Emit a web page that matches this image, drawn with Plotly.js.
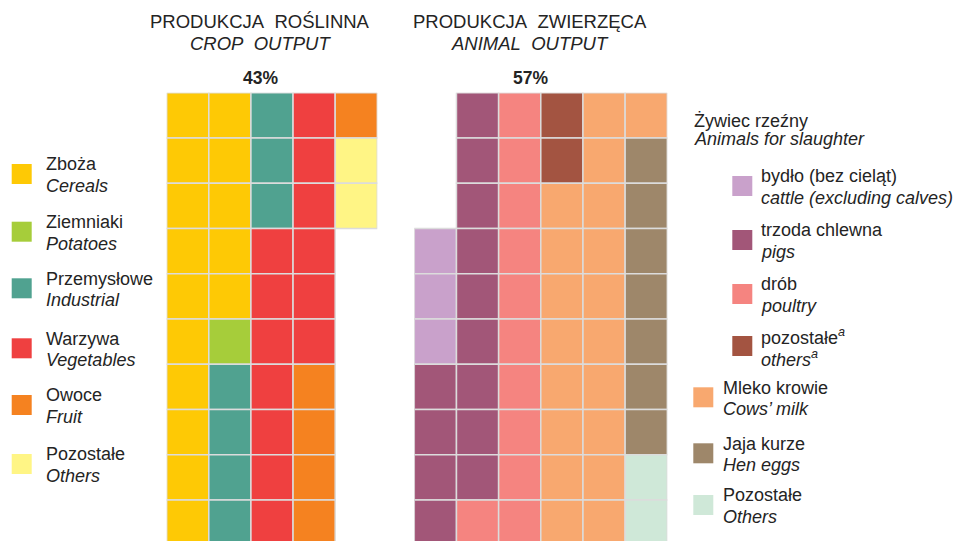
<!DOCTYPE html>
<html>
<head>
<meta charset="utf-8">
<script src="https://cdn.plot.ly/plotly-3.0.1.min.js"></script>
<style>html,body{margin:0;padding:0;background:#fff;}#chart{width:963px;height:541px;}</style>
</head>
<body>
<div id="chart"></div>
<script>
// ---- DATA ----
const cropLabelsPl = ['Zboża', 'Ziemniaki', 'Przemysłowe', 'Warzywa', 'Owoce', 'Pozostałe'];
const cropLabelsEn = ['Cereals', 'Potatoes', 'Industrial', 'Vegetables', 'Fruit', 'Others'];
const cropCells = [15, 1, 7, 13, 5, 2];          // each cell = 1% of global output
const animalLabelsPl = ['bydło (bez cieląt)', 'trzoda chlewna', 'drób', 'pozostałe<sup><i>a</i></sup>', 'Mleko krowie', 'Jaja kurze', 'Pozostałe'];
const animalLabelsEn = ['cattle (excluding calves)', 'pigs', 'poultry', 'others<sup>a</sup>', 'Cows’ milk', 'Hen eggs', 'Others'];
const animalCells = [3, 13, 11, 2, 19, 7, 2];
const animalSubgroup = [true, true, true, true, false, false, false]; // part of "Żywiec rzeźny"
const sectionTitlesPl = ['PRODUKCJA\u00A0\u00A0ROŚLINNA', 'PRODUKCJA\u00A0\u00A0ZWIERZĘCA'];
const sectionTitlesEn = ['CROP\u00A0\u00A0OUTPUT', 'ANIMAL\u00A0\u00A0OUTPUT'];
const sectionShares = [43, 57];
const slaughterHeaderPl = 'Żywiec rzeźny';
const slaughterHeaderEn = 'Animals for slaughter';

// ---- STYLE ----
const cropColors = ['#FEC905', '#A6CD3A', '#50A290', '#EF4040', '#F58220', '#FFF585'];
const animalColors = ['#C9A1CB', '#A25678', '#F58480', '#A35441', '#F8A86F', '#9E876A', '#CFE8D8'];
const gridLine = '#DCDCDC';
const txt = '#242424';
const FONT = 'Liberation Sans, Arial, sans-serif';
const LEG = 18;
const W = 963, H = 541;
const px = x => x / W, py = y => 1 - y / H;
const ROWS = 10, CROP_COLS = 5, ANIMAL_COLS = 6;

function cellTraces(counts, colors, cols, leadingBlanks, xaxis) {
  const traces = [];
  let k = leadingBlanks;
  counts.forEach((n, i) => {
    const xs = [], bases = [], ys = [];
    for (let j = 0; j < n; j++, k++) {
      xs.push(Math.floor(k / ROWS) + 0.5);
      bases.push(k % ROWS);
      ys.push(1);
    }
    traces.push({
      type: 'bar', x: xs, y: ys, base: bases, width: 1,
      xaxis: xaxis, yaxis: 'y',
      marker: {color: colors[i], line: {color: gridLine, width: 1.5}},
      hoverinfo: 'skip', showlegend: false
    });
  });
  return traces;
}

const animalTotal = animalCells.reduce((a, b) => a + b, 0);
const data = [
  ...cellTraces(cropCells, cropColors, CROP_COLS, 0, 'x'),
  ...cellTraces(animalCells, animalColors, ANIMAL_COLS, ANIMAL_COLS * ROWS - animalTotal, 'x2')
];

const annotations = [];
const shapes = [];
function ann(x, y, text, opts) {
  annotations.push(Object.assign({
    xref: 'paper', yref: 'paper', x: px(x), y: py(y), text: text, showarrow: false,
    xanchor: 'left', yanchor: 'middle', borderpad: 0, borderwidth: 0,
    font: {family: FONT, size: LEG, color: txt}
  }, opts || {}));
}
function square(x, y, color) {
  shapes.push({type: 'rect', xref: 'paper', yref: 'paper', x0: px(x), x1: px(x + 20),
    y0: py(y + 20), y1: py(y), fillcolor: color, line: {width: 0}});
}

// section titles
const titleX = [260, 530];
[0, 1].forEach(i => {
  ann(titleX[i], 21.5, sectionTitlesPl[i], {xanchor: 'center', font: {family: FONT, size: 18.5, color: txt}});
  ann(titleX[i], 43.5, '<i>' + sectionTitlesEn[i] + '</i>', {xanchor: 'center', font: {family: FONT, size: 18.5, color: txt}});
  ann(titleX[i], 77.5, '<b>' + sectionShares[i] + '%</b>', {xanchor: 'center', font: {family: FONT, size: 17.5, color: txt}});
});

// crop legend
const cropTops = [164, 221.7, 278.3, 338.3, 395, 454];
cropLabelsPl.forEach((l, i) => {
  square(11.7, cropTops[i], cropColors[i]);
  ann(46, cropTops[i] + 0.2, l);
  ann(46, cropTops[i] + 22, '<i>' + cropLabelsEn[i] + '</i>');
});

// animal legend
ann(693.5, 120.5, slaughterHeaderPl);
ann(693.5, 139, '<i>' + slaughterHeaderEn + '</i>');
const animalTops = [176, 230, 284, 336, 387.3, 443.3, 495];
animalLabelsPl.forEach((l, i) => {
  const sx = animalSubgroup[i] ? 732.3 : 693.3;
  const tx = animalSubgroup[i] ? 761 : 722.5;
  square(sx, animalTops[i], animalColors[i]);
  ann(tx, animalTops[i] + 0.2, l);
  ann(tx, animalTops[i] + 22, '<i>' + animalLabelsEn[i] + '</i>');
});

const layout = {
  width: W, height: H,
  margin: {l: 0, r: 0, t: 0, b: 0},
  paper_bgcolor: '#fff', plot_bgcolor: 'rgba(0,0,0,0)',
  barmode: 'overlay', bargap: 0,
  showlegend: false,
  xaxis: {domain: [166.7 / W, 377.3 / W], range: [0, CROP_COLS], visible: false, fixedrange: true},
  xaxis2: {domain: [414.3 / W, 667.3 / W], range: [0, ANIMAL_COLS], visible: false, fixedrange: true, anchor: 'y'},
  yaxis: {domain: [0, 1 - 92.7 / H], range: [(H - 92.7) / 45.26, 0], visible: false, fixedrange: true},
  annotations: annotations,
  shapes: shapes
};

Plotly.newPlot('chart', data, layout, {displayModeBar: false, staticPlot: true});
</script>
</body>
</html>
